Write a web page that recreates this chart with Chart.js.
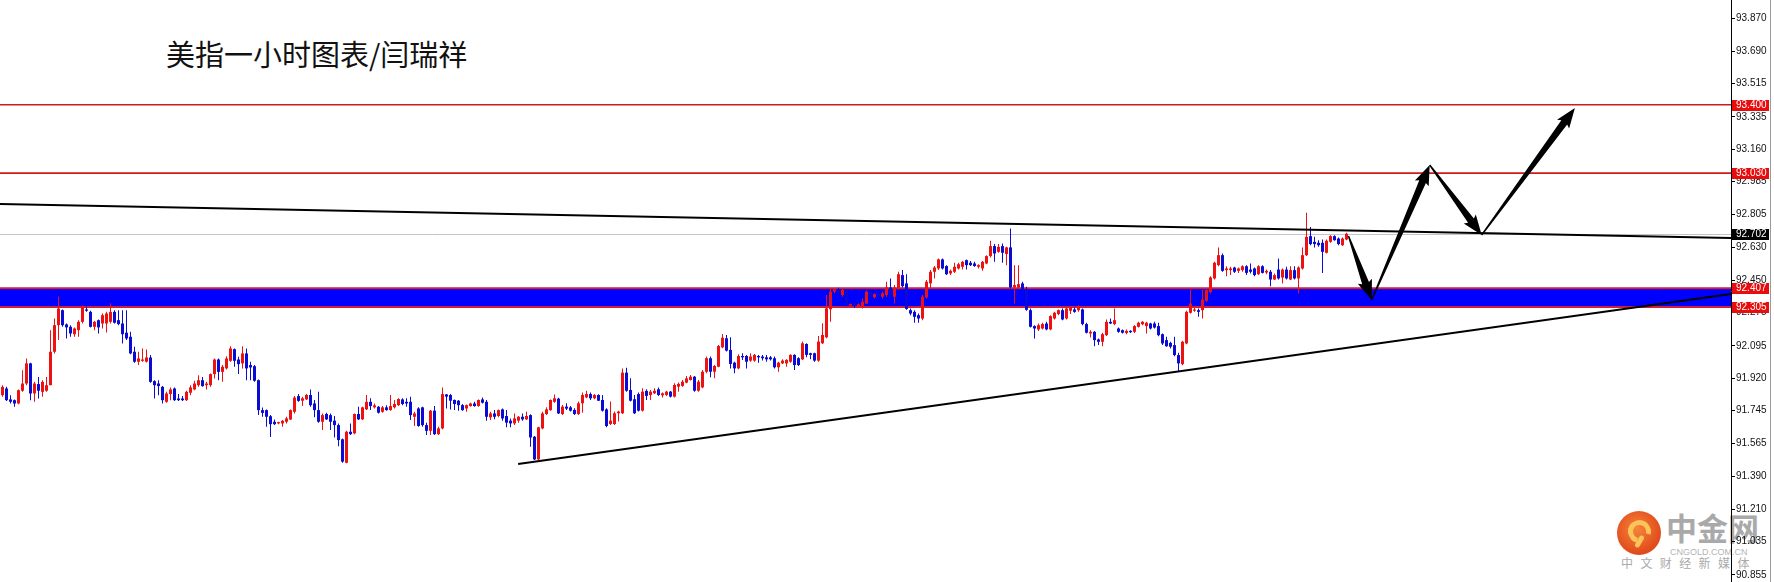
<!DOCTYPE html>
<html><head><meta charset="utf-8">
<script src="https://cdn.jsdelivr.net/npm/chart.js@4.4.1/dist/chart.umd.min.js"></script>
<style>
html,body{margin:0;padding:0;background:#fff;overflow:hidden}
#wrap{position:relative;width:1774px;height:582px;background:#fff}
#c{position:absolute;left:0;top:0;z-index:2}
.bg{position:absolute;z-index:1;white-space:nowrap}
#title{left:166px;top:36px;font:29px "Noto Sans CJK SC";color:#111;line-height:34px}
#logo{left:1617px;top:511px;width:44px;height:44px;border-radius:50%;background:radial-gradient(circle at 45% 40%,#f4863a 0%,#e4521f 60%,#d03a18 100%)}
#logo::before{content:"";position:absolute;left:11px;top:9px;width:13px;height:13px;border:5px solid #fac45a;border-radius:50%;border-bottom-color:transparent;transform:rotate(-30deg)}
#logo::after{content:"";position:absolute;left:20px;top:24px;width:5px;height:13px;background:#fac45a;border-radius:3px;transform:rotate(30deg)}
#wm1{left:1666px;top:509px;font:bold 31px "Noto Sans CJK SC";color:#a9a9a9;line-height:36px}
#wm2{left:1670px;top:547px;font:9px "Liberation Sans";color:#b4b4b4;line-height:10px}
#wm3{left:1621px;top:556px;font:12px "Noto Sans CJK SC";color:#aaa;letter-spacing:7.4px;line-height:14px}
</style></head><body>
<div id="wrap">
<div class="bg" id="title">美指一小时图表/闫瑞祥</div>
<div class="bg" id="logo"></div>
<div class="bg" id="wm1">中金网</div>
<div class="bg" id="wm2">CNGOLD.COM.CN</div>
<div class="bg" id="wm3">中文财经新媒体</div>
<canvas id="c" width="1774" height="582"></canvas>
</div>
<script>
// ---- data (USD index, 1-hour candles) ----
const opens=[
91.828,91.864,91.805,91.801,91.783,91.852,91.891,92.000,91.837,91.888,
91.846,91.852,91.882,92.063,92.207,92.288,92.211,92.198,92.158,92.180,
92.225,92.292,92.279,92.198,92.234,92.216,92.216,92.225,92.279,92.234,
92.216,92.166,92.144,92.063,92.009,92.014,92.009,92.032,91.904,91.891,
91.873,91.792,91.834,91.864,91.810,91.810,91.801,91.841,91.859,91.882,
91.909,91.882,91.882,91.942,92.021,91.954,91.973,92.014,92.077,92.021,
92.000,92.054,91.991,91.985,91.909,91.747,91.747,91.714,91.684,91.675,
91.675,91.684,91.696,91.738,91.823,91.798,91.805,91.829,91.783,91.747,
91.684,91.726,91.720,91.690,91.666,91.589,91.462,91.630,91.621,91.726,
91.697,91.751,91.792,91.762,91.765,91.738,91.762,91.747,91.762,91.774,
91.805,91.792,91.792,91.711,91.756,91.762,91.666,91.635,91.744,91.617,
91.648,91.832,91.829,91.802,91.798,91.774,91.756,91.769,91.783,91.769,
91.805,91.792,91.708,91.729,91.715,91.751,91.715,91.690,91.675,91.690,
91.711,91.697,91.720,91.603,91.480,91.648,91.726,91.747,91.792,91.809,
91.726,91.766,91.762,91.748,91.726,91.784,91.816,91.834,91.811,91.829,
91.802,91.751,91.672,91.672,91.730,91.730,91.950,91.856,91.806,91.834,
91.744,91.851,91.829,91.838,91.860,91.827,91.829,91.847,91.820,91.874,
91.878,91.896,91.910,91.928,91.852,91.870,91.955,92.028,91.955,91.982,
92.087,92.136,92.073,92.004,91.973,92.040,92.040,92.015,92.015,92.040,
92.037,92.033,92.033,92.028,91.979,92.000,92.000,92.009,92.046,92.028,
92.022,92.105,92.055,92.055,92.015,92.109,92.141,92.293,92.389,92.401,
92.370,92.397,92.313,92.321,92.310,92.306,92.324,92.388,92.358,92.375,
92.361,92.370,92.411,92.361,92.406,92.478,92.433,92.288,92.279,92.261,
92.243,92.357,92.433,92.496,92.514,92.563,92.527,92.487,92.496,92.514,
92.523,92.559,92.545,92.541,92.523,92.514,92.541,92.581,92.635,92.604,
92.635,92.592,92.628,92.411,92.411,92.433,92.400,92.288,92.202,92.184,
92.189,92.216,92.184,92.243,92.267,92.288,92.243,92.285,92.292,92.288,
92.292,92.213,92.162,92.171,92.130,92.117,92.153,92.225,92.213,92.189,
92.180,92.165,92.176,92.171,92.198,92.212,92.202,92.216,92.216,92.202,
92.158,92.126,92.111,92.099,92.045,91.996,92.108,92.274,92.285,92.288,
92.288,92.339,92.387,92.460,92.532,92.586,92.505,92.505,92.519,92.501,
92.505,92.526,92.508,92.514,92.483,92.526,92.492,92.496,92.454,92.508,
92.465,92.508,92.454,92.505,92.460,92.514,92.586,92.689,92.658,92.653,
92.653,92.599,92.658,92.689,92.676,92.640,92.671];
const highs=[
91.882,91.873,91.828,91.805,91.859,91.963,92.027,92.003,91.900,91.927,
91.909,91.927,92.180,92.243,92.361,92.292,92.216,92.207,92.195,92.234,
92.315,92.306,92.285,92.229,92.238,92.270,92.279,92.325,92.288,92.288,
92.288,92.288,92.171,92.090,92.063,92.081,92.075,92.045,91.909,91.909,
91.877,91.846,91.870,91.870,91.834,91.823,91.852,91.882,91.906,91.936,
91.927,91.900,91.945,92.027,92.027,91.991,92.039,92.093,92.081,92.036,
92.093,92.081,92.009,91.991,91.913,91.761,91.751,91.720,91.696,91.684,
91.693,91.711,91.751,91.823,91.834,91.820,91.834,91.859,91.802,91.847,
91.729,91.733,91.729,91.715,91.675,91.594,91.635,91.675,91.729,91.765,
91.765,91.829,91.811,91.783,91.769,91.769,91.774,91.829,91.802,91.811,
91.811,91.811,91.820,91.738,91.762,91.765,91.679,91.747,91.769,91.657,
91.870,91.834,91.834,91.805,91.802,91.780,91.778,91.787,91.792,91.805,
91.816,91.802,91.738,91.747,91.751,91.756,91.747,91.702,91.729,91.715,
91.729,91.738,91.724,91.607,91.657,91.738,91.762,91.805,91.832,91.814,
91.775,91.784,91.769,91.757,91.793,91.842,91.852,91.842,91.834,91.833,
91.829,91.757,91.793,91.739,91.744,91.973,91.977,91.919,91.829,91.842,
91.865,91.860,91.856,91.865,91.869,91.843,91.852,91.851,91.892,91.896,
91.910,91.932,91.937,91.932,91.910,91.964,92.037,92.037,91.991,92.100,
92.159,92.154,92.141,92.009,92.049,92.055,92.046,92.055,92.051,92.046,
92.046,92.046,92.040,92.037,92.009,92.022,92.022,92.049,92.049,92.033,
92.118,92.109,92.058,92.058,92.148,92.217,92.370,92.407,92.407,92.410,
92.406,92.403,92.324,92.330,92.324,92.352,92.394,92.395,92.380,92.385,
92.388,92.442,92.460,92.424,92.496,92.505,92.483,92.297,92.288,92.270,
92.370,92.451,92.505,92.527,92.568,92.568,92.532,92.508,92.545,92.545,
92.555,92.563,92.555,92.550,92.537,92.555,92.586,92.664,92.646,92.646,
92.649,92.631,92.731,92.532,92.532,92.442,92.415,92.297,92.207,92.216,
92.220,92.225,92.261,92.279,92.292,92.297,92.303,92.310,92.303,92.315,
92.297,92.220,92.180,92.176,92.135,92.166,92.238,92.243,92.297,92.195,
92.184,92.184,92.180,92.207,92.225,92.229,92.225,92.220,92.225,92.220,
92.162,92.144,92.117,92.144,92.057,92.122,92.285,92.397,92.306,92.297,
92.397,92.400,92.472,92.550,92.628,92.595,92.526,92.523,92.523,92.519,
92.532,92.532,92.541,92.519,92.532,92.532,92.508,92.505,92.487,92.568,
92.514,92.523,92.526,92.526,92.526,92.628,92.815,92.739,92.685,92.667,
92.671,92.671,92.694,92.694,92.682,92.682,92.708];
const lows=[
91.819,91.797,91.783,91.765,91.779,91.846,91.882,91.801,91.792,91.810,
91.819,91.846,91.882,92.054,92.126,92.198,92.135,92.144,92.144,92.144,
92.216,92.279,92.195,92.180,92.162,92.189,92.167,92.216,92.216,92.207,
92.108,92.126,92.050,92.003,91.991,92.009,92.005,91.895,91.810,91.828,
91.783,91.787,91.801,91.797,91.797,91.797,91.797,91.828,91.855,91.873,
91.873,91.859,91.873,91.918,91.909,91.900,91.967,92.009,91.982,91.942,
91.973,91.909,91.909,91.900,91.720,91.711,91.657,91.602,91.666,91.671,
91.657,91.675,91.693,91.729,91.792,91.769,91.802,91.765,91.708,91.679,
91.639,91.693,91.639,91.599,91.552,91.462,91.459,91.612,91.617,91.693,
91.693,91.747,91.747,91.756,91.729,91.733,91.744,91.744,91.756,91.769,
91.774,91.765,91.693,91.661,91.657,91.657,91.612,91.612,91.612,91.612,
91.643,91.756,91.751,91.747,91.744,91.744,91.738,91.765,91.765,91.765,
91.783,91.690,91.693,91.697,91.708,91.690,91.654,91.654,91.666,91.679,
91.690,91.693,91.549,91.477,91.477,91.643,91.720,91.744,91.787,91.726,
91.721,91.748,91.739,91.721,91.721,91.733,91.811,91.802,91.806,91.796,
91.739,91.654,91.667,91.667,91.685,91.726,91.847,91.793,91.726,91.739,
91.739,91.802,91.802,91.834,91.824,91.816,91.824,91.816,91.816,91.847,
91.874,91.892,91.907,91.847,91.847,91.865,91.946,91.925,91.919,91.979,
92.082,92.064,91.973,91.946,91.968,92.019,91.973,92.009,92.009,92.004,
92.015,92.009,92.015,91.973,91.955,91.997,91.982,92.004,91.964,91.986,
92.019,92.033,92.022,92.009,92.009,92.105,92.136,92.226,92.380,92.370,
92.361,92.310,92.306,92.300,92.302,92.297,92.321,92.355,92.352,92.350,
92.352,92.361,92.360,92.324,92.397,92.411,92.290,92.261,92.220,92.220,
92.234,92.352,92.406,92.460,92.505,92.508,92.478,92.478,92.490,92.508,
92.508,92.508,92.527,92.523,92.514,92.501,92.537,92.574,92.550,92.599,
92.545,92.532,92.406,92.324,92.406,92.397,92.285,92.195,92.135,92.176,
92.184,92.180,92.180,92.238,92.261,92.234,92.238,92.267,92.274,92.279,
92.207,92.162,92.140,92.093,92.099,92.093,92.148,92.213,92.207,92.166,
92.162,92.158,92.165,92.165,92.194,92.207,92.162,92.184,92.189,92.147,
92.099,92.090,92.081,92.039,91.954,91.990,92.104,92.270,92.279,92.252,
92.243,92.333,92.378,92.454,92.526,92.496,92.472,92.478,92.490,92.490,
92.496,92.478,92.487,92.472,92.478,92.487,92.483,92.418,92.451,92.454,
92.433,92.454,92.451,92.454,92.378,92.508,92.581,92.640,92.628,92.631,
92.490,92.595,92.653,92.664,92.640,92.635,92.667];
const closes=[
91.873,91.801,91.792,91.783,91.855,91.891,92.000,91.837,91.891,91.852,
91.900,91.882,92.063,92.207,92.297,92.207,92.195,92.162,92.189,92.225,
92.306,92.285,92.198,92.225,92.195,92.261,92.270,92.279,92.220,92.213,
92.158,92.135,92.054,92.009,92.027,92.021,92.032,91.900,91.882,91.877,
91.801,91.837,91.859,91.801,91.801,91.801,91.846,91.870,91.891,91.909,
91.877,91.891,91.942,92.021,91.954,91.982,92.027,92.081,92.014,91.996,
92.054,91.973,91.978,91.906,91.747,91.732,91.711,91.671,91.671,91.682,
91.689,91.702,91.747,91.815,91.797,91.811,91.829,91.774,91.747,91.684,
91.720,91.697,91.684,91.666,91.585,91.468,91.630,91.617,91.726,91.697,
91.762,91.792,91.769,91.773,91.733,91.762,91.747,91.769,91.780,91.807,
91.780,91.783,91.720,91.729,91.661,91.666,91.635,91.744,91.617,91.648,
91.834,91.820,91.798,91.780,91.774,91.747,91.774,91.783,91.769,91.802,
91.787,91.711,91.729,91.711,91.747,91.702,91.679,91.675,91.702,91.711,
91.697,91.715,91.599,91.480,91.654,91.729,91.751,91.802,91.811,91.729,
91.766,91.755,91.744,91.726,91.784,91.829,91.834,91.811,91.829,91.798,
91.744,91.661,91.690,91.730,91.739,91.950,91.852,91.798,91.730,91.744,
91.847,91.824,91.847,91.852,91.829,91.838,91.847,91.820,91.883,91.889,
91.901,91.919,91.928,91.852,91.901,91.955,92.028,91.955,91.986,92.094,
92.139,92.069,91.997,91.973,92.040,92.033,92.009,92.037,92.046,92.033,
92.028,92.022,92.022,91.979,92.004,92.015,92.019,92.046,91.991,91.991,
92.109,92.046,92.046,92.015,92.118,92.154,92.298,92.389,92.401,92.380,
92.397,92.318,92.321,92.310,92.320,92.333,92.388,92.360,92.375,92.360,
92.379,92.411,92.370,92.411,92.483,92.418,92.295,92.270,92.252,92.243,
92.361,92.442,92.496,92.519,92.563,92.514,92.483,92.501,92.523,92.537,
92.550,92.532,92.532,92.527,92.532,92.550,92.581,92.635,92.595,92.631,
92.599,92.628,92.411,92.424,92.429,92.400,92.290,92.198,92.189,92.207,
92.213,92.184,92.256,92.274,92.288,92.238,92.297,92.303,92.279,92.310,
92.213,92.166,92.171,92.126,92.117,92.158,92.225,92.216,92.234,92.171,
92.166,92.176,92.169,92.202,92.220,92.225,92.220,92.189,92.194,92.153,
92.108,92.093,92.090,92.045,92.000,92.117,92.279,92.324,92.292,92.279,
92.346,92.397,92.465,92.545,92.586,92.501,92.514,92.514,92.496,92.514,
92.526,92.490,92.496,92.478,92.526,92.490,92.501,92.454,92.478,92.460,
92.508,92.460,92.505,92.460,92.519,92.586,92.685,92.646,92.646,92.640,
92.604,92.664,92.689,92.667,92.646,92.676,92.702];

// price axis tick labels
const tickVals=[93.870,93.690,93.515,93.335,93.160,92.985,92.805,92.630,92.450,92.275,92.095,91.920,91.745,91.565,91.390,91.210,91.035,90.855];
// horizontal levels
const redLevels=[93.400,93.030];
const bandLevels=[92.407,92.305];
const currentPrice=92.702;
// trend lines (bar index, price)
const downLineX=[-0.625,432.125], downLineY=[92.863,92.679];
const upLineX=[128.9,432.125], upLineY=[91.455,92.376];
// projected path arrows (bar index, price)
const arrowX=[336.5,342.3,356.8,369.8,393.1];
const arrowY=[92.690,92.343,93.074,92.695,93.383];

const RED='#ee1111', BLUE='#0b0bd6';
const idx=opens.map((_,i)=>i);
const colors=idx.map(i=>closes[i]>=opens[i]?RED:BLUE);

const overlay={
  id:'overlay',
  beforeDatasetsDraw(chart){
    const {ctx,chartArea:a,scales:{y}}=chart;
    ctx.save();
    let py=Math.round(y.getPixelForValue(currentPrice))+0.5;
    ctx.strokeStyle='#c4c4c4';ctx.lineWidth=1;
    ctx.beginPath();ctx.moveTo(a.left,py);ctx.lineTo(a.right,py);ctx.stroke();
    const t=y.getPixelForValue(bandLevels[0]), b=y.getPixelForValue(bandLevels[1]);
    ctx.fillStyle='#0000ff';ctx.fillRect(a.left,t,a.right-a.left,b-t);
    ctx.strokeStyle='#cc1f3c';ctx.lineWidth=2;
    [t,b].forEach(v=>{ctx.beginPath();ctx.moveTo(a.left,v);ctx.lineTo(a.right,v);ctx.stroke();});
    ctx.strokeStyle='#d01a1a';ctx.lineWidth=1.6;
    redLevels.forEach(v=>{const p=y.getPixelForValue(v);ctx.beginPath();ctx.moveTo(a.left,p);ctx.lineTo(a.right,p);ctx.stroke();});
    ctx.restore();
  },
  afterDatasetsDraw(chart){
    const {ctx,scales:{x,y}}=chart;
    ctx.save();ctx.fillStyle='#000';
    for(let k=0;k<arrowX.length-1;k++){
      const x0=x.getPixelForValue(arrowX[k]),y0=y.getPixelForValue(arrowY[k]);
      const x1=x.getPixelForValue(arrowX[k+1]),y1=y.getPixelForValue(arrowY[k+1]);
      const dx=x1-x0,dy=y1-y0,L=Math.hypot(dx,dy),ux=dx/L,uy=dy/L,nx=-uy,ny=ux;
      const hl=18,hw=7.5,w0=0.7,w1=3.6;
      const bx=x1-ux*hl,by=y1-uy*hl;
      ctx.beginPath();
      ctx.moveTo(x0+nx*w0,y0+ny*w0);
      ctx.lineTo(bx+nx*w1,by+ny*w1);
      ctx.lineTo(bx+nx*hw-ux*2,by+ny*hw-uy*2);
      ctx.lineTo(x1,y1);
      ctx.lineTo(bx-nx*hw-ux*2,by-ny*hw-uy*2);
      ctx.lineTo(bx-nx*w1,by-ny*w1);
      ctx.lineTo(x0-nx*w0,y0-ny*w0);
      ctx.closePath();ctx.fill();
    }
    ctx.restore();
  },
  afterDraw(chart){
    const {ctx,chartArea:a,scales:{y}}=chart;
    ctx.save();
    const boxes=redLevels.concat(bandLevels).map(v=>[v,'#e80c0c']).concat([[currentPrice,'#000']]);
    ctx.font='10px "Liberation Sans"';ctx.textBaseline='middle';ctx.textAlign='left';
    boxes.forEach(([v,c])=>{
      const p=Math.round(y.getPixelForValue(v));
      ctx.fillStyle=c;ctx.fillRect(a.right+1,p-5,37,11);
      ctx.fillStyle='#fff';ctx.fillText(v.toFixed(3),a.right+5,p+0.5);
    });
    ctx.strokeStyle='#9a9a9a';ctx.lineWidth=1;
    ctx.beginPath();ctx.moveTo(1770.5,0);ctx.lineTo(1770.5,582);ctx.stroke();
    ctx.restore();
  }
};

Chart.defaults.font.family='Liberation Sans';
new Chart(document.getElementById('c'),{
  type:'bar',
  data:{datasets:[
    {type:'line',label:'down',data:downLineX.map((v,i)=>({x:v,y:downLineY[i]})),borderColor:'#000',borderWidth:2,pointRadius:0,order:0},
    {type:'line',label:'up',data:upLineX.map((v,i)=>({x:v,y:upLineY[i]})),borderColor:'#000',borderWidth:2,pointRadius:0,order:0},
    {type:'bar',label:'body',data:idx.map(i=>({x:i,y:[opens[i],closes[i]]})),backgroundColor:colors,
     grouped:false,categoryPercentage:1,barPercentage:0.75,minBarLength:1,borderWidth:0,inflateAmount:0,order:1},
    {type:'bar',label:'wick',data:idx.map(i=>({x:i,y:[lows[i],highs[i]]})),backgroundColor:colors,
     grouped:false,categoryPercentage:1,barPercentage:0.25,minBarLength:1,borderWidth:0,inflateAmount:0,order:2}
  ]},
  options:{
    responsive:false,animation:false,events:[],
    layout:{padding:0},
    plugins:{legend:{display:false},tooltip:{enabled:false},title:{display:false}},
    scales:{
      x:{type:'linear',display:false,min:-0.625,max:432.125,offset:false},
      y:{type:'linear',position:'right',min:90.8164,max:93.9675,
         grid:{display:true,drawOnChartArea:false,drawTicks:true,tickLength:4,tickColor:'#000',color:'#000'},
         border:{display:true,color:'#000',width:1},
         ticks:{autoSkip:false,color:'#111',padding:1,font:{family:'Liberation Sans',size:10},callback:v=>Number(v).toFixed(3)},
         afterBuildTicks(s){s.ticks=tickVals.map(v=>({value:v}));},
         afterFit(s){s.width=43;s.paddingTop=0;s.paddingBottom=0;}
      }
    }
  },
  plugins:[overlay]
});
</script>
</body></html>
